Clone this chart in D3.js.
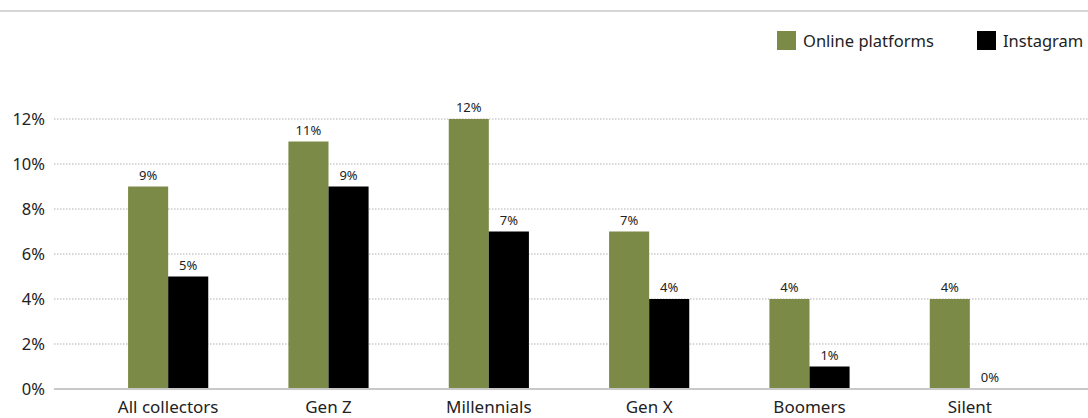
<!DOCTYPE html>
<html>
<head>
<meta charset="utf-8">
<script src="https://cdn.jsdelivr.net/npm/d3@7"></script>
<style>
  html, body { margin: 0; padding: 0; background: #fff; }
  svg { display: block; font-family: "Noto Sans", "Open Sans", sans-serif; }
</style>
</head>
<body>
<svg id="chart" width="1088" height="418"></svg>
<script>
// Share of collectors buying through each channel, by generation
const categories = ["All collectors", "Gen Z", "Millennials", "Gen X", "Boomers", "Silent"];
const seriesNames = ["Online platforms", "Instagram"];
const onlinePlatforms = [9, 11, 12, 7, 4, 4];
const instagram = [5, 9, 7, 4, 1, 0];
const yTicks = [0, 2, 4, 6, 8, 10, 12];
const colors = ["#7b8a47", "#000000"];

const svg = d3.select("#chart");
const W = 1088, H = 418;
const plot = { left: 88, right: 1050, top: 119, bottom: 389 };

const x0 = d3.scaleBand().domain(categories).range([plot.left, plot.right]).paddingInner(0.5).paddingOuter(0.25);
const x1 = d3.scaleBand().domain(seriesNames).range([0, x0.bandwidth()]);
const y = d3.scaleLinear().domain([0, 12]).range([plot.bottom, plot.top]);
const color = d3.scaleOrdinal().domain(seriesNames).range(colors);

// top rule
svg.append("line").attr("x1", 0).attr("x2", W).attr("y1", 11).attr("y2", 11)
  .attr("stroke", "#c8c8c8").attr("stroke-width", 1.5);

// gridlines
const grid = svg.append("g");
grid.selectAll("line").data(yTicks.filter(d => d > 0)).join("line")
  .attr("x1", 54).attr("x2", W)
  .attr("y1", d => y(d)).attr("y2", d => y(d))
  .attr("stroke", "#b0b0b0").attr("stroke-width", 1)
  .attr("stroke-dasharray", "1.5,1.5");

// y axis labels
const yAxis = d3.axisLeft(y).tickValues(yTicks).tickFormat(d => d + "%").tickSize(0).tickPadding(0);
const ya = svg.append("g").attr("transform", "translate(45,0)").call(yAxis);
ya.select(".domain").remove();
ya.selectAll("text").attr("font-size", 16.5).attr("fill", "#222").attr("font-family", "'Noto Sans', sans-serif");

// bars
const data = categories.map((c, i) => ({
  cat: c,
  vals: [{ s: seriesNames[0], v: onlinePlatforms[i] }, { s: seriesNames[1], v: instagram[i] }]
}));

const groups = svg.append("g").selectAll("g").data(data).join("g")
  .attr("transform", d => `translate(${x0(d.cat)},0)`);

groups.selectAll("rect").data(d => d.vals).join("rect")
  .attr("x", d => x1(d.s))
  .attr("y", d => y(d.v))
  .attr("width", x1.bandwidth())
  .attr("height", d => y(0) - y(d.v))
  .attr("fill", d => color(d.s));

groups.selectAll("text").data(d => d.vals).join("text")
  .attr("x", d => x1(d.s) + x1.bandwidth() / 2)
  .attr("y", d => y(d.v) - 7)
  .attr("text-anchor", "middle")
  .attr("font-size", 13)
  .attr("fill", "#222")
  .text(d => d.v + "%");

// baseline
svg.append("line").attr("x1", 54).attr("x2", W).attr("y1", y(0)).attr("y2", y(0))
  .attr("stroke", "#c8c8c8").attr("stroke-width", 2);

// x axis labels
const xAxis = d3.axisBottom(x0).tickSize(0).tickPadding(0);
const xa = svg.append("g").attr("transform", `translate(0,${y(0) + 12})`).call(xAxis);
xa.select(".domain").remove();
xa.selectAll("text").attr("font-size", 17).attr("fill", "#222").attr("font-family", "'Noto Sans', sans-serif");

// legend
const legendX = [777, 977];
const legend = svg.append("g").selectAll("g").data(seriesNames).join("g")
  .attr("transform", (d, i) => `translate(${legendX[i]},31)`);
legend.append("rect").attr("width", 19).attr("height", 19).attr("fill", d => color(d));
legend.append("text").attr("x", 26).attr("y", 16).attr("font-size", 16.5).attr("fill", "#222").text(d => d);
</script>
</body>
</html>
